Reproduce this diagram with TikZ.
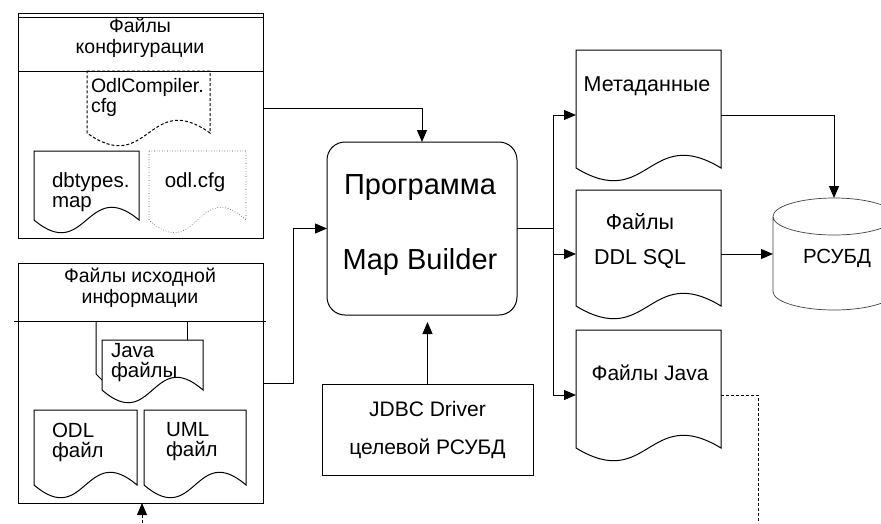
\documentclass[tikz,border=0pt]{standalone}
\usepackage{fontspec}
\setmainfont{Liberation Sans}
\usetikzlibrary{arrows.meta,calc}

\tikzset{
  every node/.style={inner sep=0pt, outer sep=0pt},
  frame/.style={draw, line width=1pt, rectangle},
  blank/.style={rectangle},
  hdr/.style={font=\fontsize{19.5}{21}\selectfont, align=center},
  txt/.style={font=\fontsize{20.5}{20}\selectfont, align=left},
  rtxt/.style={font=\fontsize{21.5}{20}\selectfont, align=center},
  big/.style={font=\fontsize{29}{75}\selectfont, align=center},
  arr/.style={-{Triangle[length=12pt,width=10pt]}, line width=1pt},
  wire/.style={line width=1pt},
  dashline/.style={dash pattern=on 3pt off 2pt, line width=1pt},
}

% outline of a "document" symbol with a wavy lower edge, spanning a named node
\newcommand\docoutline[2][]{%
  \draw[line width=1pt,#1] let \p1=(#2.north west), \p2=(#2.south east),
      \p3=($(\p1)!.5!(\p2)$) in
    (\p1) -- (\x2,\y1) -- (\x2,\y2+12pt)
    .. controls (\x3,\y2+56pt) and (\x3,\y2-32pt) .. (\x1,\y2+12pt) -- cycle;}

\begin{document}
\begin{tikzpicture}[x=1pt,y=-1pt]
\useasboundingbox (0,0) rectangle (881,523);

% ---------- configuration files group ----------
\node[frame, minimum width=245, minimum height=225] (cfg) at (140.5,125.5) {};
\draw[wire] (18,17) -- (263,17);
\draw[wire] (18,71) -- (263,71);
\node[hdr] (cfgh) at (140,38) {Файлы\\конфигурации};

\node[blank, minimum width=123, minimum height=74] (odlc) at (148.5,108) {};
\docoutline[dash pattern=on 3pt off 2pt]{odlc}
\node[txt, anchor=west, font=\fontsize{19.5}{20}\selectfont] (odlct) at (91,97) {OdlCompiler.\\cfg};

\node[blank, minimum width=105, minimum height=81] (dbt) at (86.5,191.5) {};
\docoutline{dbt}
\node[txt, anchor=west] (dbtt) at (52,192) {dbtypes.\\map};

\node[blank, minimum width=97, minimum height=81] (odl) at (197.5,191.5) {};
\docoutline[line width=0.6pt, dotted, black!75]{odl}
\node[txt] (odlt) at (195,182) {odl.cfg};

% ---------- source files group ----------
\node[frame, minimum width=245, minimum height=240] (src) at (140.5,383) {};
\draw[wire] (14,321) -- (266,321);
\node[hdr] (srch) at (140,288) {Файлы исходной\\информации};

% stacked java documents
\draw[wire] (96,321) -- (96,374) -- (102,380);
\draw[wire] (187,321) -- (187,340);
\node[blank, minimum width=101, minimum height=62] (javas) at (152.5,371) {};
\docoutline[fill=white]{javas}
\node[txt, anchor=west] (javast) at (111,363) {Java\\файлы};

\node[blank, minimum width=103, minimum height=87] (odlf) at (85.5,453.5) {};
\docoutline{odlf}
\node[txt, anchor=west] (odlft) at (52,442) {ODL\\файл};

\node[blank, minimum width=102, minimum height=87] (umlf) at (195,453.5) {};
\docoutline{umlf}
\node[txt, anchor=west] (umlft) at (166,442) {UML\\файл};

% ---------- program ----------
\node[frame, rounded corners=18pt, minimum width=190, minimum height=173] (prog) at (422,228.5) {};
\node[big] (progt) at (420,225) {Программа\\Map Builder};

\node[frame, minimum width=211, minimum height=91,
      font=\fontsize{21}{38}\selectfont, align=center] (jdbc) at (427.5,429.5)
      {JDBC Driver\\целевой РСУБД};

% ---------- results ----------
\node[blank, minimum width=145, minimum height=130] (meta) at (648.5,115) {};
\docoutline{meta}
\node[rtxt] (metat) at (647,86) {Метаданные};

\node[blank, minimum width=145, minimum height=128] (ddl) at (648.5,254) {};
\docoutline{ddl}
\node[rtxt, font=\fontsize{21.5}{35}\selectfont] (ddlt) at (640,241) {Файлы\\DDL SQL};

\node[blank, minimum width=145, minimum height=130] (java) at (648.5,395) {};
\docoutline{java}
\node[rtxt, font=\fontsize{21}{20}\selectfont] (javat) at (650,373) {Файлы Java};

% database cylinder
\node[blank, minimum width=122, minimum height=112] (db) at (834,254) {};
\draw[line width=0.7pt, black!75] let \p1=(db.north west), \p2=(db.south east),
    \p3=(db.center) in
  (\x3,\y1-18.5pt) ellipse [x radius=61pt, y radius=18.5pt]
  (\x1,\y1-18.5pt) -- (\x1,\y2+18.5pt)
  arc[start angle=180, end angle=360, x radius=61pt, y radius=18.5pt]
  -- (\x2,\y1-18.5pt);
\node[txt] (dbtx) at (837,258) {РСУБД};

% ---------- connectors ----------
\coordinate (bus) at (553,228.5);
\coordinate (javaend) at (758,523);
\coordinate (srcin) at (142,523);

\draw[arr] (odlc -| cfg.east) -| (prog.north);
\draw[arr] (src.east) -- ++(30,0) |- (prog.west);
\draw[arr, shorten >=7pt] (jdbc.north) -- (jdbc.north |- prog.south);
\draw[wire] (prog.east) -- (bus);
\draw[arr] (bus) |- (meta.west);
\draw[arr] (bus) |- (ddl.west);
\draw[arr] (bus) |- (java.west);
\draw[arr] (meta.east) -| (db.north);
\draw[arr] (ddl.east) -- (db.west);
\draw[dashline] (java.east) -| (javaend);
\draw[arr, dash pattern=on 3pt off 2pt] (srcin) -- (srcin |- src.south);
\end{tikzpicture}
\end{document}
